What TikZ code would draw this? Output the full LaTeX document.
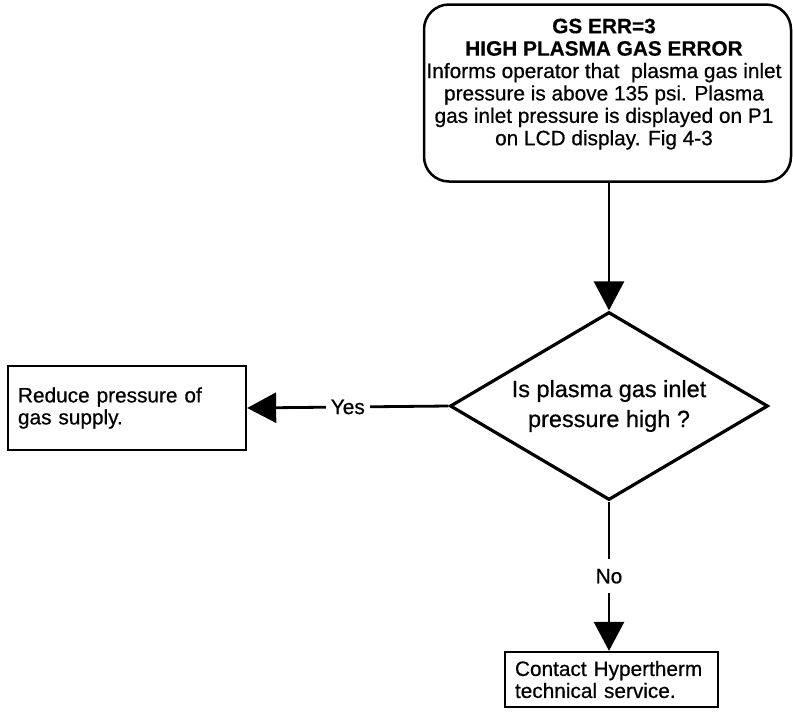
\documentclass[tikz,border=0pt]{standalone}
\usepackage{fontspec}
\setmainfont{Liberation Sans}[FakeBold=0.6, BoldFeatures={FakeBold=0.4}]
\usetikzlibrary{shapes.geometric,arrows.meta}
\tikzset{
  body/.style={font=\fontsize{20.8}{22}\selectfont},
  procbox/.style={draw, line width=2.3pt, rectangle, inner sep=0pt, body},
  flow/.style={line width=2.8pt, -{Triangle[length=29pt,width=30pt]}},
  lbl/.style={fill=white, body, inner sep=0pt}
}
\begin{document}
\begin{tikzpicture}[x=1pt,y=-1pt]
\useasboundingbox (0,0) rectangle (793,713);
% top rounded box
\node[draw, line width=2.5pt, rounded corners=25pt, minimum width=367pt, minimum height=177pt, inner sep=0pt] (err) at (607.5,93) {};
\node[anchor=north, align=center, inner sep=0pt, font=\fontsize{20.8}{22.4}\selectfont] (errtxt) at (604,18.5)
  {\textbf{GS ERR=3}\\ \textbf{HIGH PLASMA GAS ERROR}\\ Informs operator that\ \ plasma gas inlet\\ pressure is above 135 psi. Plasma\\ gas inlet pressure is displayed on P1\\ on LCD display. Fig 4-3};
% decision
\node[draw, line width=3.2pt, diamond, aspect=1.69, minimum width=318pt, minimum height=188pt, inner sep=0pt, align=center, font=\fontsize{23.5}{30}\selectfont] (dec) at (609,406)
  {Is plasma gas inlet\\ pressure high ?};
% left box
\node[procbox, minimum width=238pt, minimum height=84pt, text width=218pt, align=left] (reduce) at (127,408)
  {Reduce pressure of\\ gas supply.};
% bottom box
\node[procbox, minimum width=213pt, minimum height=55pt, text width=193pt, align=left] (contact) at (611.5,679.5)
  {Contact Hypertherm\\ technical service.};
% connectors
\draw[flow] (err.south -| dec.north) -- (dec.north);
\draw[flow] (dec.west) -- node[lbl, inner xsep=5pt, inner ysep=3pt] (yes) {Yes} (reduce.east);
\draw[flow] (dec.south) -- node[lbl, inner ysep=10pt, inner xsep=3pt] (no) {No} (dec.south |- contact.north);
\end{tikzpicture}
\end{document}
